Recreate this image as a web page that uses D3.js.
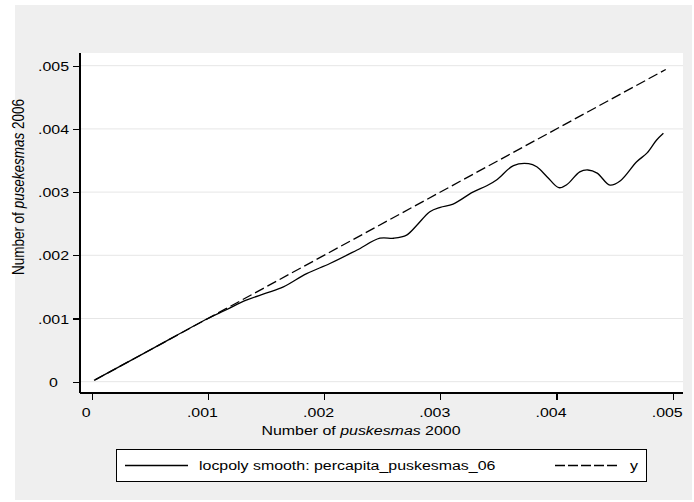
<!DOCTYPE html>
<html>
<head>
<meta charset="utf-8">
<script src="https://cdn.jsdelivr.net/npm/d3@7"></script>
<style>
    body { margin: 0; background: #fff; }
    text { font-family: "Liberation Sans", Arial, sans-serif; fill: #000; }
</style>
</head>
<body>
<div id="chart"></div>
<script>
// data
const smoothX = [0.00002, 0.0005, 0.001, 0.00115, 0.00133, 0.00150, 0.00165, 0.00185, 0.00205, 0.00228,
    0.00248, 0.0026, 0.00271, 0.0028, 0.00291, 0.003, 0.00311, 0.00328, 0.0034, 0.00349,
    0.00363, 0.00376, 0.00383, 0.00392, 0.00402, 0.00409, 0.0042, 0.00427, 0.00435, 0.00446,
    0.00455, 0.00469, 0.00478, 0.00486, 0.00492];
const smoothY = [0.00002, 0.0005, 0.001, 0.00113, 0.00129, 0.0014, 0.0015, 0.00171, 0.00187, 0.00208,
    0.00227, 0.00227, 0.00232, 0.00248, 0.00269, 0.00276, 0.00281, 0.003, 0.0031, 0.0032,
    0.00342, 0.00345, 0.0034, 0.00324, 0.00307, 0.00312, 0.00332, 0.00335, 0.0033, 0.00311,
    0.00318, 0.00348, 0.00362, 0.00382, 0.00393];
const diagX = [0.00003, 0.00494];
const diagY = [0.00003, 0.00494];
const xTicks = [0, 0.001, 0.002, 0.003, 0.004, 0.005];
const yTicks = [0, 0.001, 0.002, 0.003, 0.004, 0.005];
const tickLabel = v => v === 0 ? "0" : d3.format(".3f")(v).replace(/^0/, "");
const legendLabels = ["locpoly smooth: percapita_puskesmas_06", "y"];

document.addEventListener('DOMContentLoaded', () => {
    const width = 694, height = 502;
    const sx = 1.18; // text in the picture is stretched sideways

    const svg = d3.select("#chart")
        .append("svg")
        .attr("width", width)
        .attr("height", height);

    // outer gray area and white plot region
    svg.append("rect")
        .attr("x", 15).attr("y", 5)
        .attr("width", 677).attr("height", 495)
        .style("fill", "#efefef");

    const plot = { left: 80, right: 683, top: 53, bottom: 393 };
    svg.append("rect")
        .attr("x", plot.left).attr("y", plot.top)
        .attr("width", plot.right - plot.left).attr("height", plot.bottom - plot.top)
        .style("fill", "#fff");

    const x = d3.scaleLinear().domain([0, 0.005]).range([91.7, 672.7]);
    const y = d3.scaleLinear().domain([0, 0.005]).range([381.7, 65.7]);

    // gridlines
    svg.selectAll(".grid")
        .data(yTicks)
        .enter()
        .append("line")
        .attr("class", "grid")
        .attr("x1", plot.left).attr("x2", plot.right)
        .attr("y1", d => y(d)).attr("y2", d => y(d))
        .style("stroke", "#e6e6e6")
        .style("stroke-width", 1);

    // axes
    const yAxis = svg.append("g")
        .attr("transform", `translate(${plot.left},0)`)
        .call(d3.axisLeft(y).tickValues(yTicks).tickSize(7).tickFormat(""));
    yAxis.select(".domain").attr("d", `M0,${plot.top}V${plot.bottom}`);

    const xAxis = svg.append("g")
        .attr("transform", `translate(0,${plot.bottom})`)
        .call(d3.axisBottom(x).tickValues(xTicks).tickSize(7).tickFormat(""));
    xAxis.select(".domain").attr("d", `M${plot.left},0H${plot.right}`);

    svg.selectAll(".domain, .tick line")
        .style("stroke", "#000")
        .style("stroke-width", 1.2)
        .attr("shape-rendering", "crispEdges");

    // tick labels
    svg.selectAll(".ylab")
        .data(yTicks)
        .enter()
        .append("text")
        .attr("class", "ylab")
        .attr("transform", d => `translate(53.5,${y(d) + 5}) scale(${sx},1)`)
        .attr("text-anchor", "middle")
        .style("font-size", "13.5px")
        .text(tickLabel);

    svg.selectAll(".xlab")
        .data(xTicks)
        .enter()
        .append("text")
        .attr("class", "xlab")
        .attr("transform", d => `translate(${x(d) - 5.5},417) scale(${sx},1)`)
        .attr("text-anchor", "middle")
        .style("font-size", "13.5px")
        .text(tickLabel);

    // axis titles
    const xt = svg.append("text")
        .attr("transform", `translate(361,435) scale(${sx},1)`)
        .attr("text-anchor", "middle")
        .style("font-size", "13.5px");
    xt.append("tspan").text("Number of ");
    xt.append("tspan").style("font-style", "italic").text("puskesmas");
    xt.append("tspan").text(" 2000");

    const yt = svg.append("text")
        .attr("transform", `translate(24,187) rotate(-90) scale(1,${sx})`)
        .attr("text-anchor", "middle")
        .style("font-size", "13.5px");
    yt.append("tspan").text("Number of ");
    yt.append("tspan").style("font-style", "italic").text("pusekesmas");
    yt.append("tspan").text(" 2006");

    // lines
    const line = d3.line()
        .x(d => x(d[0]))
        .y(d => y(d[1]));

    svg.append("path")
        .datum(d3.zip(diagX, diagY))
        .attr("d", line)
        .style("fill", "none")
        .style("stroke", "#000")
        .style("stroke-width", 1.3)
        .style("stroke-dasharray", "10,4");

    svg.append("path")
        .datum(d3.zip(smoothX, smoothY))
        .attr("d", line.curve(d3.curveCatmullRom.alpha(0.5)))
        .style("fill", "none")
        .style("stroke", "#000")
        .style("stroke-width", 1.3);

    // legend
    const legend = svg.append("g");
    legend.append("rect")
        .attr("x", 116.5).attr("y", 449.5)
        .attr("width", 530).attr("height", 32)
        .style("fill", "#fff")
        .style("stroke", "#000")
        .style("stroke-width", 1);

    legend.append("line")
        .attr("x1", 125).attr("x2", 188)
        .attr("y1", 465.5).attr("y2", 465.5)
        .style("stroke", "#000").style("stroke-width", 1.3);
    legend.append("text")
        .attr("transform", `translate(199,470) scale(${sx},1)`)
        .style("font-size", "13.5px")
        .text(legendLabels[0]);

    legend.append("line")
        .attr("x1", 555).attr("x2", 620)
        .attr("y1", 465.5).attr("y2", 465.5)
        .style("stroke", "#000").style("stroke-width", 1.3)
        .style("stroke-dasharray", "10,3");
    legend.append("text")
        .attr("transform", `translate(630,470) scale(${sx},1)`)
        .style("font-size", "13.5px")
        .text(legendLabels[1]);
});
</script>
</body>
</html>
